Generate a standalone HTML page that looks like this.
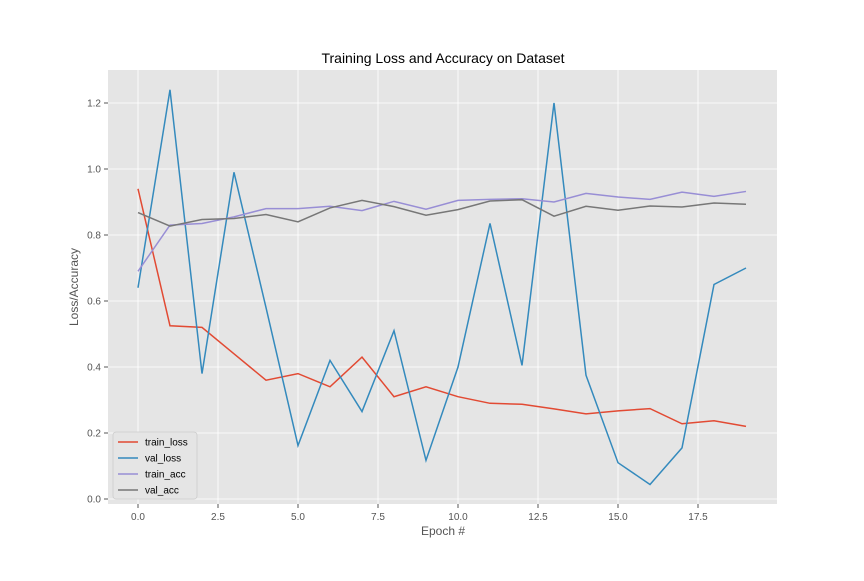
<!DOCTYPE html>
<html><head><meta charset="utf-8"><style>body{margin:0;background:#fff}svg{font-family:"Liberation Sans","DejaVu Sans",sans-serif}</style></head>
<body>
<svg id="chart" width="864" height="576" xmlns="http://www.w3.org/2000/svg"></svg>
<script>
const epochs=[0,1,2,3,4,5,6,7,8,9,10,11,12,13,14,15,16,17,18,19];
const trainLoss=[0.94,0.525,0.52,0.44,0.36,0.38,0.34,0.43,0.31,0.34,0.31,0.29,0.287,0.273,0.258,0.267,0.274,0.228,0.237,0.22];
const valLoss=[0.64,1.24,0.38,0.99,0.58,0.162,0.42,0.265,0.51,0.117,0.40,0.835,0.405,1.20,0.375,0.11,0.044,0.155,0.65,0.70];
const trainAcc=[0.69,0.83,0.835,0.855,0.88,0.88,0.887,0.874,0.902,0.878,0.905,0.908,0.91,0.90,0.926,0.915,0.908,0.93,0.917,0.932];
const valAcc=[0.868,0.827,0.847,0.85,0.862,0.84,0.882,0.905,0.886,0.86,0.877,0.903,0.907,0.857,0.887,0.875,0.888,0.885,0.897,0.893];
const xTicks=[0,2.5,5,7.5,10,12.5,15,17.5];
const yTicks=[0,0.2,0.4,0.6,0.8,1.0,1.2];
const NS="http://www.w3.org/2000/svg";
const svg=document.getElementById('chart');
const L=108,R=777,T=70,B=504;
const xs=v=>138+v*32, ys=v=>499-v*330;
function el(t,a,p){const e=document.createElementNS(NS,t);for(const k in a)e.setAttribute(k,a[k]);(p||svg).appendChild(e);return e;}
const bg=el('rect',{x:L,y:T,width:R-L,height:B-T,fill:'#e5e5e5'});


xTicks.forEach(v=>{
 el('line',{x1:xs(v),x2:xs(v),y1:T,y2:B,stroke:'#fff','stroke-width':0.8});
 el('line',{x1:xs(v),x2:xs(v),y1:B,y2:B+4,stroke:'#555'});
 const t=el('text',{x:xs(v),y:B+16,'text-anchor':'middle','font-size':10,fill:'#555'});t.textContent=v.toFixed(1);
 
 
});
yTicks.forEach(v=>{
 el('line',{x1:L,x2:R,y1:ys(v),y2:ys(v),stroke:'#fff','stroke-width':0.8});
 el('line',{x1:L-4,x2:L,y1:ys(v),y2:ys(v),stroke:'#555'});
 const t=el('text',{x:L-7,y:ys(v)+3.5,'text-anchor':'end','font-size':10,fill:'#555'});t.textContent=v.toFixed(1);
 
 
});
const series=[[trainLoss,'#e24a33','train_loss'],[valLoss,'#348abd','val_loss'],[trainAcc,'#988ed5','train_acc'],[valAcc,'#777777','val_acc']];
series.forEach(([d,c,n])=>{
 const p=el('polyline',{points:d.map((v,i)=>xs(epochs[i])+','+ys(v)).join(' '),fill:'none',stroke:c,'stroke-width':1.5});
 
 
});
const title=el('text',{x:443,y:63,'text-anchor':'middle','font-size':14,fill:'#000'});title.textContent='Training Loss and Accuracy on Dataset';


const xl=el('text',{x:443,y:535,'text-anchor':'middle','font-size':12,fill:'#555'});xl.textContent='Epoch #';


const yl=el('text',{x:78,y:287,'text-anchor':'middle','font-size':12,fill:'#555',transform:'rotate(-90 78 287)'});yl.textContent='Loss/Accuracy';


const lg=el('g',{});


el('rect',{x:113,y:432,width:84,height:67,rx:3,fill:'#e5e5e5',stroke:'#ccc','stroke-width':0.8},lg);
series.forEach(([d,c,n],i)=>{
 const y=442+i*16;
 el('line',{x1:118,x2:138,y1:y,y2:y,stroke:c,'stroke-width':1.5},lg);
 const t=el('text',{x:145,y:y+3.5,'font-size':10,fill:'#000'},lg);t.textContent=n;
 
 
});
</script>
</body></html>
